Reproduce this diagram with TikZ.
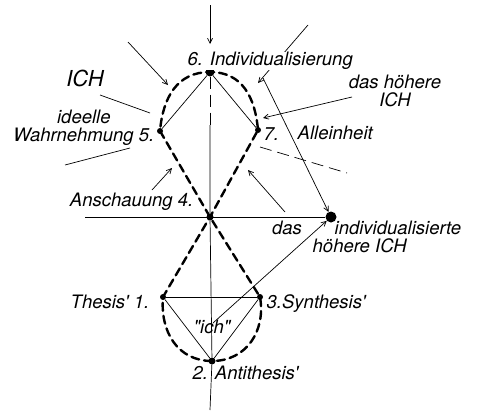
\documentclass[tikz,border=0pt]{standalone}
\usepackage{fontspec}
\newfontfamily\hand{TeX Gyre Heros}
\usetikzlibrary{arrows.meta}
\begin{document}
\begin{tikzpicture}[x=1pt,y=-1pt,
  thinline/.style={line width=0.7pt},
  loopline/.style={line width=2.4pt, dash pattern=on 8pt off 5pt},
  arr/.style={thinline, -{Straight Barb[length=5pt,width=5pt]}},
  dot/.style={circle, fill, inner sep=0pt, minimum size=#1},
  lbl/.style={font=\fontsize{18.5}{18.5}\selectfont\hand\itshape, inner sep=0.5pt}]
\useasboundingbox (0,0) rectangle (485,415);
% points
\node[dot=9pt] (p6) at (210,72) {};
\node[dot=6pt] (p5) at (160,131) {};
\node[dot=6pt] (p7) at (258,130) {};
\node[dot=7pt] (p4) at (210,217) {};
\node[dot=11pt] (pR) at (331,217) {};
\node[dot=6pt] (p1) at (163,297) {};
\node[dot=6pt] (p3) at (260,297) {};
\node[dot=7pt] (p2) at (212,361) {};
% free ends
\coordinate (vtop) at (210,5);
\coordinate (vtopend) at (210,44);
\coordinate (vbot) at (210,410);
\coordinate (hl) at (85,217);
\coordinate (a1s) at (128,42);  \coordinate (a1e) at (168,85);
\coordinate (l1s) at (100,95);  \coordinate (l1e) at (150,113);
\coordinate (l2s) at (65,165);  \coordinate (l2e) at (130,148);
\coordinate (a2s) at (152,190); \coordinate (a2e) at (172,168);
\coordinate (a3s) at (308,25);  \coordinate (a3e) at (258,83);
\coordinate (a4s) at (263,78);
\coordinate (a5s) at (352,97);  \coordinate (a5e) at (263,118);
\coordinate (d1s) at (260,147); \coordinate (d1e) at (347,173);
\coordinate (a6s) at (285,212); \coordinate (a6e) at (248,170);
\coordinate (a7s) at (213,323);
% axes
\draw[thinline] (hl) -- (pR);
\draw[arr] (vtop) -- (vtopend);
\draw[thinline, dash pattern=on 12pt off 6pt] (p6) -- (210,125);
\draw[thinline] (210,125) -- (p4) -- (p2) -- (vbot);
% thin connections
\draw[thinline] (p6) -- (p5);
\draw[thinline] (p6) -- (p7);
\draw[thinline] (p1) -- (p3);
\draw[thinline] (p1) -- (p2);
\draw[thinline] (p3) -- (p2);
% figure eight
\draw[loopline, line cap=round]
  (p5.center) -- (p4.center) -- (p3.center)
  to[out=-80, in=0, looseness=1.1] (p2.center)
  to[out=180, in=-95, looseness=1.1] (p1.center)
  -- (p4.center) -- (p7.center)
  to[out=95, in=0, looseness=1.1] (p6.center)
  to[out=180, in=85, looseness=1.1] (p5.center);
% arrows and pointers
\draw[arr] (a1s) -- (a1e);
\draw[thinline] (l1s) -- (l1e);
\draw[thinline] (l2s) -- (l2e);
\draw[arr] (a2s) -- (a2e);
\draw[arr] (a3s) -- (a3e);
\draw[arr] (a4s) -- (pR);
\draw[arr] (a5s) -- (a5e);
\draw[thinline, dash pattern=on 12pt off 6pt] (d1s) -- (d1e);
\draw[arr] (a6s) -- (a6e);
\draw[arr] (a7s) -- (pR);
% labels
\node[lbl, anchor=west, fill=white] (t6) at (187,61) {6. Individualisierung};
\node[lbl, font=\fontsize{22}{22}\selectfont\hand\itshape] (tich1) at (85,78) {ICH};
\node[lbl, align=center] (thoeh) at (395,91) {das höhere\\ICH};
\node[lbl, align=center, anchor=east] (t5) at (155,128) {ideelle\\Wahrnehmung 5.};
\node[lbl, anchor=west] (t7) at (263,134) {7.};
\node[lbl, anchor=west] (tall) at (297,133) {Alleinheit};
\node[lbl, anchor=east] (t4) at (194,202) {Anschauung 4.};
\node[lbl] (tdas) at (287,228) {das};
\node[lbl, align=left, anchor=west] (tind) at (312,237) {\hspace*{22pt}individualisierte\\höhere ICH};
\node[lbl, anchor=east] (t1) at (150,302) {Thesis' 1.};
\node[lbl, anchor=west] (t3) at (266,304) {3.Synthesis'};
\node[lbl, anchor=west] (t2) at (192,373) {2. Antithesis'};
\node[lbl] (tich) at (212,327) {"ich"};
\end{tikzpicture}
\end{document}
